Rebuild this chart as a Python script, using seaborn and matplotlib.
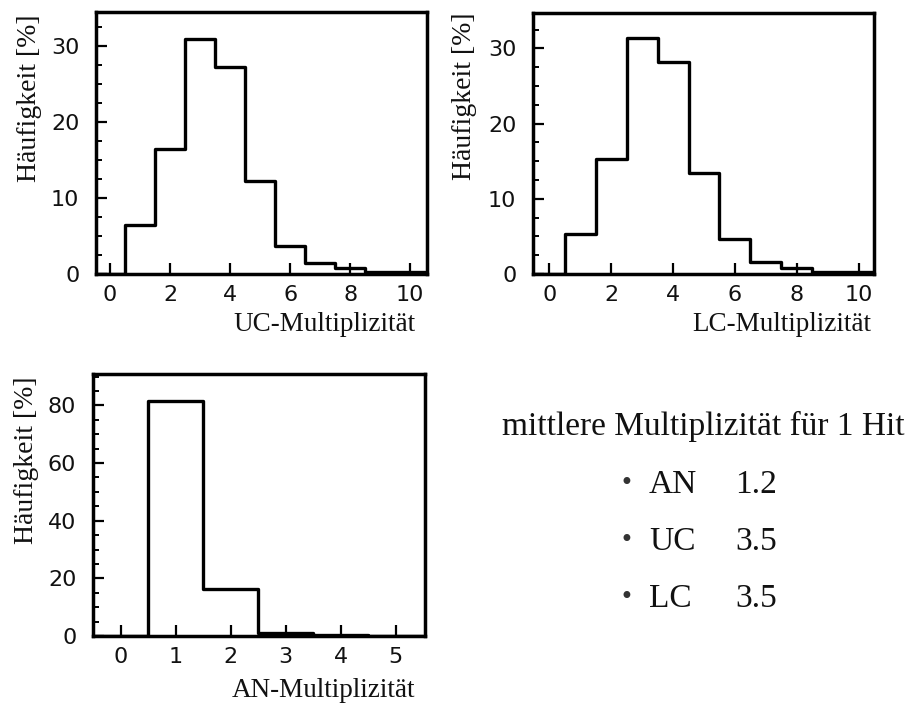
import numpy as np
import pandas as pd
import matplotlib
matplotlib.use("Agg")
import matplotlib.pyplot as plt
from matplotlib.ticker import MultipleLocator
import seaborn as sns

# ---- data ----
uc_mult = [0, 1, 2, 3, 4, 5, 6, 7, 8, 9, 10]
uc_freq = [0.0, 6.5, 16.5, 30.9, 27.3, 12.2, 3.7, 1.5, 0.75, 0.3, 0.2]

lc_mult = [0, 1, 2, 3, 4, 5, 6, 7, 8, 9, 10]
lc_freq = [0.0, 5.3, 15.3, 31.4, 28.2, 13.4, 4.6, 1.6, 0.75, 0.3, 0.2]

an_mult = [0, 1, 2, 3, 4, 5]
an_freq = [0.0, 81.7, 16.4, 1.2, 0.5, 0.1]

summary_title = "mittlere Multiplizität für 1 Hit"
summary_names = ["AN", "UC", "LC"]
summary_means = [1.2, 3.5, 3.5]

ylabel = "Häufigkeit [%]"

# ---- style ----
sns.set_theme(style="ticks")
plt.rcParams["font.family"] = ["DejaVu Sans"]
plt.rcParams["axes.edgecolor"] = "black"
SERIF = "Liberation Serif"

fig = plt.figure(figsize=(9.07, 7.04), dpi=100)
W, H = 907.0, 704.0


def px_axes(l, r, t, b):
    return fig.add_axes([l / W, 1 - b / H, (r - l) / W, (b - t) / H])


def draw_hist(ax, mult, freq, xlim, ylim, xmaj, ymaj, ymin, xlabel, xl_coords, yl_coords):
    df = pd.DataFrame({"mult": np.asarray(mult, dtype=float), "freq": freq})
    sns.histplot(data=df, x="mult", weights="freq", discrete=True, element="step",
                 fill=False, color="black", linewidth=2.4, ax=ax)
    ax.set_xlim(*xlim)
    ax.set_ylim(*ylim)
    ax.xaxis.set_major_locator(MultipleLocator(xmaj))
    ax.yaxis.set_major_locator(MultipleLocator(ymaj))
    ax.yaxis.set_minor_locator(MultipleLocator(ymin))
    ax.tick_params(axis="both", which="both", direction="in", colors="black",
                   labelcolor="#111111")
    ax.tick_params(axis="both", which="major", length=8, width=1.6, labelsize=16)
    ax.tick_params(axis="y", which="minor", length=4.5, width=1.4)
    ax.tick_params(axis="x", which="minor", length=0)
    ax.tick_params(axis="x", which="major", pad=8)
    ax.tick_params(axis="y", which="major", pad=12)
    for s in ax.spines.values():
        s.set_linewidth(2.5)
        s.set_color("black")
        s.set_visible(True)
    ax.set_xlabel(xlabel, fontfamily=SERIF, fontsize=19.5, color="#111111")
    ax.xaxis.set_label_coords(*xl_coords)
    ax.xaxis.label.set_ha("right")
    ax.xaxis.label.set_va("baseline")
    ax.set_ylabel(ylabel, fontfamily=SERIF, fontsize=20, color="#111111")
    ax.yaxis.set_label_coords(*yl_coords)
    ax.yaxis.label.set_ha("right")
    ax.yaxis.label.set_va("center")


ax_uc = px_axes(96, 427, 12, 274)
draw_hist(ax_uc, uc_mult, uc_freq, (-0.47, 10.56), (0, 34.5), 2, 10, 2.5,
          "UC-Multiplizität", (0.964, -0.218), (-0.2, 0.989))

ax_lc = px_axes(533, 874, 13, 274)
draw_hist(ax_lc, lc_mult, lc_freq, (-0.53, 10.5), (0, 34.7), 2, 10, 2.5,
          "LC-Multiplizität", (0.993, -0.218), (-0.2, 1.0))

ax_an = px_axes(93, 425, 374, 636)
draw_hist(ax_an, an_mult, an_freq, (-0.5, 5.53), (0, 90.9), 1, 20, 5,
          "AN-Multiplizität", (0.97, -0.233), (-0.2, 0.989))

# ---- summary text ----
fig.text(502 / W, 1 - 435 / H, summary_title, fontfamily=SERIF, fontsize=24,
         color="#111111", ha="left", va="baseline")
baselines = [493, 550, 607]
for name, val, yb in zip(summary_names, summary_means, baselines):
    fig.text(626 / W, 1 - (yb - 10) / H, "\u2022", fontfamily="DejaVu Sans",
             fontsize=17, color="#333333", ha="center", va="center")
    fig.text(649 / W, 1 - yb / H, name, fontfamily=SERIF, fontsize=24,
             color="#111111", ha="left", va="baseline")
    fig.text(735 / W, 1 - yb / H, f"{val:.1f}", fontfamily=SERIF, fontsize=24,
             color="#111111", ha="left", va="baseline")

fig.savefig("out.png", dpi=100, facecolor="white")
